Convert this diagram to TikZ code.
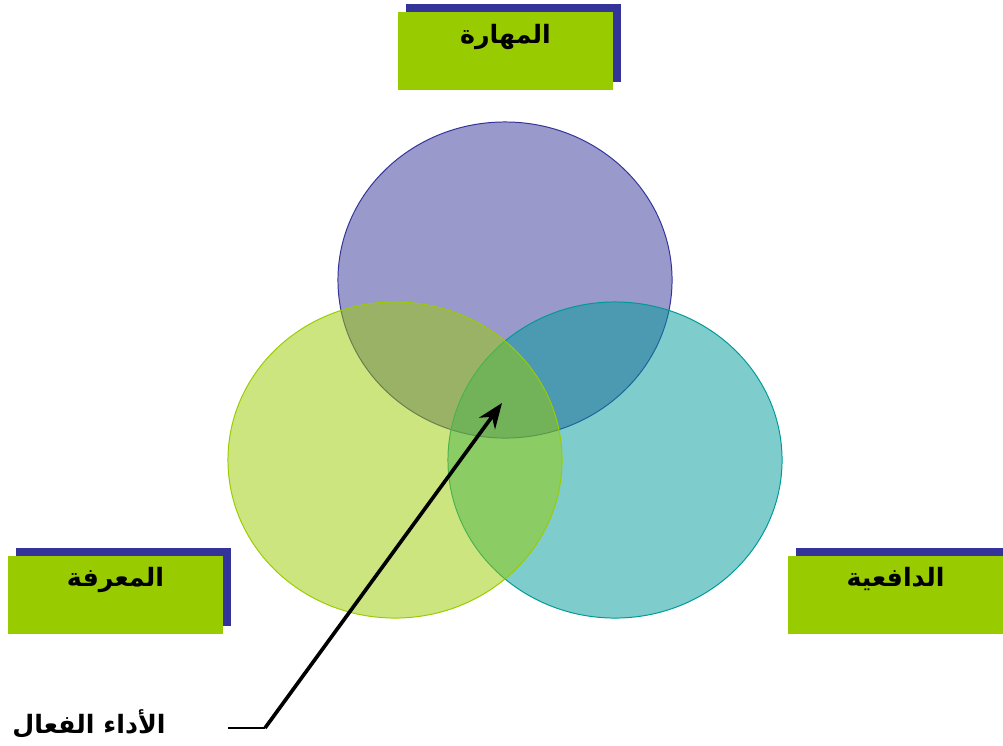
\documentclass[tikz,border=0pt]{standalone}
\usepackage{fontspec}
\usepackage{tikz}
\usetikzlibrary{arrows.meta, shapes.geometric, shadows}
\TeXXeTstate=1
\newfontfamily\arabicfont[Script=Arabic]{DejaVu Sans}
\definecolor{boxgreen}{RGB}{153,204,0}
\definecolor{shadownavy}{RGB}{51,51,153}
\definecolor{ringteal}{RGB}{0,153,153}

\begin{document}
\begin{tikzpicture}[
    x=0.025cm, y=-0.025cm,
    font=\arabicfont\bfseries\fontsize{18}{20}\selectfont,
    >=Stealth,
    titlebox/.style={fill=boxgreen, minimum width=5.375cm, minimum height=1.95cm,
        inner ysep=0pt, text height=0.78cm, text depth=1.17cm,
        general shadow={fill=shadownavy, shadow xshift=0.2cm, shadow yshift=0.2cm}},
    ring/.style={ellipse, draw, line width=0.7pt, minimum width=8.35cm,
        minimum height=7.9cm, fill opacity=0.5}
]

\useasboundingbox (0,0) rectangle (1003,745);

\node[ring, fill=shadownavy, draw=shadownavy] (skillring) at (505,280) {};
\node[ring, fill=ringteal, draw=ringteal] (motivring) at (615,460) {};
\node[ring, fill=boxgreen, draw=boxgreen] (knowring) at (395,460) {};

\node[titlebox] (skill) at (505.5,51) {\beginR المهارة\endR};
\node[titlebox] (know)  at (115.5,594.5) {\beginR المعرفة\endR};
\node[titlebox] (motiv) at (895.5,594.5) {\beginR الدافعية\endR};

\node[anchor=base] (perf) at (89,733) {\beginR الأداء الفعال\endR};

\coordinate (tail) at (228,728);
\coordinate (bend) at (265,728);
\coordinate (tip)  at (502,403);

\draw[line width=0.8pt] (tail) -- (bend);
\draw[-{Stealth[length=18pt, width=14pt]}, line width=2.6pt] (bend) -- (tip);

\end{tikzpicture}
\end{document}
